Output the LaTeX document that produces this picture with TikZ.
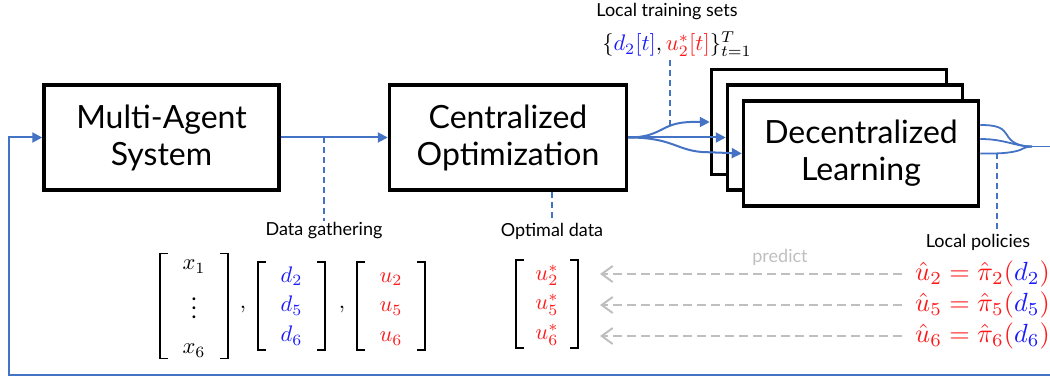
\documentclass[tikz,border=0pt]{standalone}
\usepackage[no-math]{fontspec}
\setmainfont{Lato}
\usetikzlibrary{arrows.meta}
\definecolor{lineblue}{HTML}{4472C4}
\definecolor{mblue}{RGB}{25,25,255}
\definecolor{mred}{RGB}{255,25,25}
\definecolor{pgray}{HTML}{BFBFBF}
\renewcommand{\arraystretch}{1.1}
\setlength{\arraycolsep}{0pt}
\newcommand{\mmath}[1]{\scalebox{2.25}{$#1$}}
\newcommand{\bmath}[1]{\scalebox{2.63}{$#1$}}
% brackets around a matrix node: #1 node, #2 half width, #3 half height
\newcommand{\mbrackets}[3]{%
  \draw[brk] ([shift={(-#2+7,-#3)}]#1.center) -- ([shift={(-#2,-#3)}]#1.center)
     -- ([shift={(-#2,#3)}]#1.center) -- ([shift={(-#2+7,#3)}]#1.center);
  \draw[brk] ([shift={(#2-7,-#3)}]#1.center) -- ([shift={(#2,-#3)}]#1.center)
     -- ([shift={(#2,#3)}]#1.center) -- ([shift={(#2-7,#3)}]#1.center);}
\begin{document}
\begin{tikzpicture}[x=1pt,y=-1pt,
  blockbox/.style={draw, line width=3.5pt, fill=white, minimum width=235pt, minimum height=105pt,
    align=center, inner sep=0pt, font=\fontsize{32}{37}\selectfont},
  flow/.style={draw=lineblue, line width=2pt, -{Triangle[length=10pt,width=10pt]}},
  flowline/.style={draw=lineblue, line width=1.8pt},
  dashblue/.style={draw=lineblue, line width=1.6pt, dash pattern=on 6pt off 4pt},
  smalllabel/.style={font=\fontsize{18}{21}\selectfont, inner sep=2pt},
  mathnode/.style={inner sep=0pt},
  brk/.style={draw=black, line width=1.8pt, line cap=rect},
  predictarrow/.style={draw=pgray, line width=2pt, dash pattern=on 9pt off 5pt,
    -{Straight Barb[length=11pt,width=16pt,line width=2pt]}}
]
\useasboundingbox (0,0) rectangle (1050,377);

% main blocks
\node[blockbox] (mas) at (161.5,137.5) {Multi-Agent\\System};
\node[blockbox, minimum width=237pt] (co) at (508,137.5) {Centralized\\Optimization};
\node[blockbox] (d1) at (829,122) {};
\node[blockbox] (d2) at (845,137.5) {};
\node[blockbox] (d3) at (861,153.5) {Decentralized\\Learning};

% MAS -> CO
\draw[flow] (mas) -- (co);
\coordinate (dg) at (324,137.5);
\node[smalllabel] (dglab) at (324,231) {Data gathering};
\draw[dashblue] (dg) -- (dglab);

% optimal data
\node[smalllabel] (odlab) at (552,231) {Optimal data};
\draw[dashblue] (co.south -| odlab) -- (odlab);

% local training sets
\node[smalllabel] (lts) at (667,12) {Local training sets};
\node[mathnode] (ltsf) at (677,44) {\mmath{\{{\color{mblue}d_2[t]},{\color{mred}u_2^*[t]}\}_{t=1}^T}};
\coordinate (tsj) at (670,130);
\draw[dashblue] (ltsf.south -| tsj) ++(0,4) -- (tsj);

% fan out
\draw[flow] (co.east) .. controls (662,137.5) and (660,123) .. (690,122) -- (d1.west);
\draw[flow] (co.east) -- (d2.west);
\draw[flow] (co.east) .. controls (672,137.5) and (676,150) .. (702,152) -- (d3.west);

% merge on the right
\coordinate (m) at (1032,146.5);
\coordinate (outend) at (1050,146.5);
\draw[flowline] ([yshift=28.5pt]d3.east) .. controls (1000,125) and (1003,129) .. (1007,135)
   .. controls (1011,142) and (1018,146.5) .. (m);
\draw[flowline] ([yshift=14.5pt]d3.east) .. controls (1005,139) and (1015,146.5) .. (m);
\draw[flowline] (d3.east) .. controls (1005,154) and (1014,152) .. (1020,150)
   .. controls (1024,148) and (1027,146.5) .. (m);
\draw[flowline] (m) -- (outend);

% local policies
\coordinate (lpj) at (997,153);
\node[smalllabel] (lplab) at (978,242) {Local policies};
\draw[dashblue] (lpj) -- (lpj |- lplab.north);

% feedback loop
\coordinate (fb0) at (1050,375);
\coordinate (fb1) at (9,375);
\draw[flow] (fb0) -- (fb1) |- (mas.west);

% data matrices
\node[mathnode] (xm) at (194,306) {\mmath{\begin{array}{c} x_1\\[2.5pt] \vdots\\[2.5pt] x_6\end{array}}};
\mbrackets{xm}{34}{52.5}
\node[mathnode] (c1) at (243,309) {\mmath{,}};
\node[mathnode] (dm) at (291.5,306) {\mmath{\begin{array}{c}\color{mblue}d_2\\ \color{mblue}d_5\\ \color{mblue}d_6\end{array}}};
\mbrackets{dm}{33.5}{44}
\node[mathnode] (c2) at (342,309) {\mmath{,}};
\node[mathnode] (um) at (391,306) {\mmath{\begin{array}{c}\color{mred}u_2\\ \color{mred}u_5\\ \color{mred}u_6\end{array}}};
\mbrackets{um}{34}{44}

% optimal data matrix
\node[mathnode] (us) at (547,304) {\mmath{\begin{array}{c}\color{mred}u_2^*\\ \color{mred}u_5^*\\ \color{mred}u_6^*\end{array}}};
\mbrackets{us}{31}{44}

% local policies outputs
\node[mathnode, anchor=west, text=mred] (r2) at (915,274) {\bmath{\hat u_2=\hat\pi_2({\color{mblue}d_2})}};
\node[mathnode, anchor=west, text=mred] (r5) at (915,305) {\bmath{\hat u_5=\hat\pi_5({\color{mblue}d_5})}};
\node[mathnode, anchor=west, text=mred] (r6) at (915,336) {\bmath{\hat u_6=\hat\pi_6({\color{mblue}d_6})}};

% predict arrows
\node[smalllabel, text=pgray] (pred) at (780,257) {predict};
\draw[predictarrow, shorten <=13pt, shorten >=53pt] (r2.west) -- (us.center |- r2.west);
\draw[predictarrow, shorten <=13pt, shorten >=53pt] (r5.west) -- (us.center |- r5.west);
\draw[predictarrow, shorten <=13pt, shorten >=53pt] (r6.west) -- (us.center |- r6.west);
\end{tikzpicture}
\end{document}
